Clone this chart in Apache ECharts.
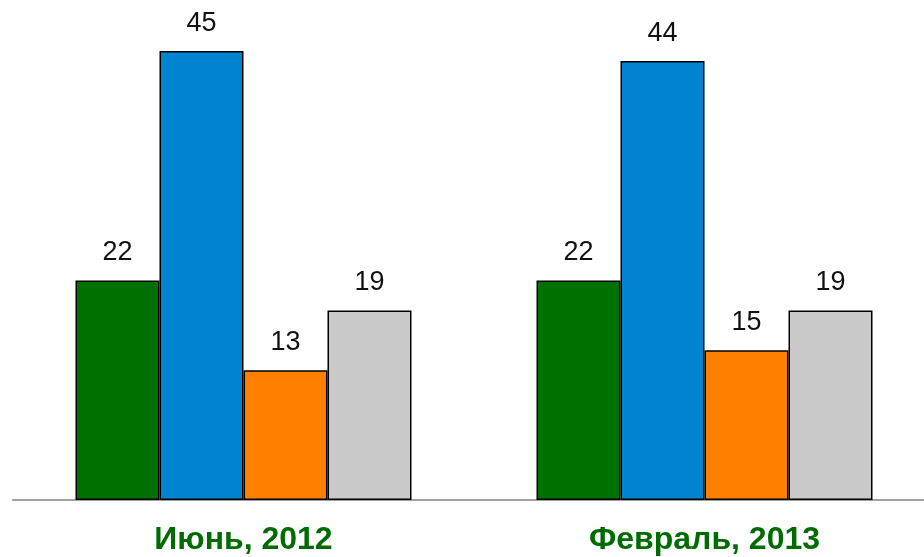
<!DOCTYPE html>
<html>
<head>
<meta charset="utf-8">
<script src="https://cdn.jsdelivr.net/npm/echarts@6/dist/echarts.min.js"></script>
<style>
  html, body { margin: 0; padding: 0; background: #fff; }
  #chart { width: 924px; height: 557px; }
</style>
</head>
<body>
<div id="chart"></div>
<script>
const categories = ['Июнь, 2012', 'Февраль, 2013']
const seriesA = [22, 22]
const seriesB = [45, 44]
const seriesC = [13, 15]
const seriesD = [19, 19]

const colors = ['#007000', '#0084D0', '#FF8000', '#C9C9C9']

const chart = echarts.init(document.getElementById('chart'))

const makeSeries = (data, color) => ({
  type: 'bar',
  data: data,
  barWidth: 84,
  barGap: '0%',
  itemStyle: { color: color, borderColor: '#000', borderWidth: 1.5 },
  label: {
    show: true,
    position: 'top',
    distance: 14,
    color: '#111',
    fontSize: 27,
    fontFamily: 'Liberation Sans, Arial, sans-serif'
  }
})

chart.setOption({
  animation: false,
  grid: { left: 13, right: -11, top: 1, bottom: 57, outerBoundsMode: 'none' },
  xAxis: {
    type: 'category',
    data: categories,
    axisLine: { lineStyle: { color: '#a0a0a0', width: 2 } },
    axisTick: { show: false },
    axisLabel: {
      margin: 24,
      color: '#006B00',
      fontSize: 32,
      fontWeight: 'bold',
      fontFamily: 'Liberation Sans, Arial, sans-serif'
    }
  },
  yAxis: {
    type: 'value',
    min: 0,
    max: 50,
    show: false,
    splitLine: { show: false }
  },
  series: [
    makeSeries(seriesA, colors[0]),
    makeSeries(seriesB, colors[1]),
    makeSeries(seriesC, colors[2]),
    makeSeries(seriesD, colors[3])
  ]
})
</script>
</body>
</html>
